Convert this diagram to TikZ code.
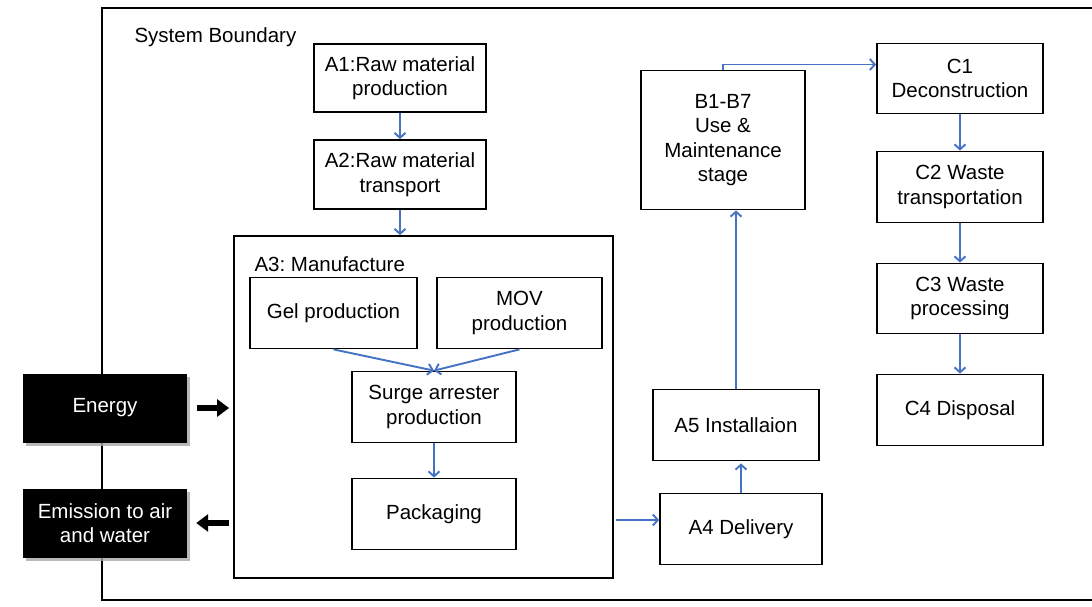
\documentclass[tikz,border=0pt]{standalone}
\usepackage{fontspec}
\setmainfont{Liberation Sans}
\usetikzlibrary{arrows.meta,shadows,calc}
\definecolor{conblue}{HTML}{4472C4}
\frenchspacing
\begin{document}
\begin{tikzpicture}[x=1pt,y=-1pt,
  font=\fontsize{20.5}{24.5}\selectfont,
  box/.style={draw=black,line width=1.8pt,fill=white,align=center,inner sep=0pt},
  blackbox/.style={fill=black,text=white,align=center,inner sep=0pt,
     minimum width=164pt,minimum height=69pt,
     drop shadow={shadow xshift=3pt,shadow yshift=-3pt,fill=black!35,opacity=0.8}},
  conn/.style={draw=conblue,line width=1.9pt,-{Straight Barb[length=5pt,width=11pt]}},
  bigarrow/.style={draw=black,line width=6.5pt,-{Triangle[length=12pt,width=17pt]}}]
\useasboundingbox (0,0) rectangle (1092,606);
% system boundary
\draw[line width=1.8pt] (1095,8) -- (102,8) -- (102,600) -- (1095,600);
\node[anchor=west] (sb) at (131,37) {System Boundary};
% A-stage boxes
\node[box,minimum width=172pt,minimum height=68pt] (A1) at (400,78) {A1:Raw material\\production};
\node[box,minimum width=172pt,minimum height=69pt] (A2) at (400,174.5) {A2:Raw material\\transport};
\node[box,minimum width=379pt,minimum height=342pt] (A3) at (423.5,407) {};
\node[anchor=west] (A3l) at (251,264) {A3: Manufacture};
\node[box,minimum width=167pt,minimum height=71pt] (gel) at (333.5,313) {Gel production};
\node[box,minimum width=165pt,minimum height=71pt] (mov) at (519.5,313) {MOV\\production};
\node[box,minimum width=164pt,minimum height=71pt] (surge) at (434,407) {Surge arrester\\production};
\node[box,minimum width=164pt,minimum height=71pt] (pack) at (434,514) {Packaging};
\node[box,minimum width=162pt,minimum height=71pt] (A4) at (741,529) {A4 Delivery};
\node[box,minimum width=166pt,minimum height=71pt] (A5) at (736,425) {A5 Installaion};
\node[box,minimum width=164pt,minimum height=139pt] (B) at (723,140) {B1-B7\\Use \&\\Maintenance\\stage};
% C-stage boxes
\node[box,minimum width=166pt,minimum height=70pt] (C1) at (960,78.5) {C1\\Deconstruction};
\node[box,minimum width=166pt,minimum height=71pt] (C2) at (960,187) {C2 Waste\\transportation};
\node[box,minimum width=166pt,minimum height=70pt] (C3) at (960,298.5) {C3 Waste\\processing};
\node[box,minimum width=166pt,minimum height=71pt] (C4) at (960,410) {C4 Disposal};
% inputs / outputs
\node[blackbox] (energy) at (105,408) {Energy};
\node[blackbox] (emis) at (105,523) {Emission to air\\and water};
% connectors
\coordinate (a4in) at (660,520);
\draw[conn] (A1.south) -- (A2.north);
\draw[conn] (A2.south) -- (A2.south |- A3.north);
\draw[conn] (gel.south) -- (surge.north);
\draw[conn] (mov.south) -- (surge.north);
\draw[conn] (surge.south) -- (pack.north);
\draw[conn] ([xshift=2pt]A3.east |- a4in) -- (A4.west |- a4in);
\draw[conn,shorten >=2pt] (A4.north) -- (A4.north |- A5.south);
\draw[conn] (A5.north) -- (A5.north |- B.south);
\draw[conn] (B.north) |- ([yshift=14pt]C1.west);
\draw[conn] (C1.south) -- (C2.north);
\draw[conn] (C2.south) -- (C3.north);
\draw[conn] (C3.south) -- (C4.north);
\draw[bigarrow] ([xshift=10pt]energy.east) -- ([xshift=-4pt]A3.west |- energy.east);
\draw[bigarrow] ([xshift=-4pt]A3.west |- emis.east) -- ([xshift=9pt]emis.east);
\end{tikzpicture}
\end{document}
